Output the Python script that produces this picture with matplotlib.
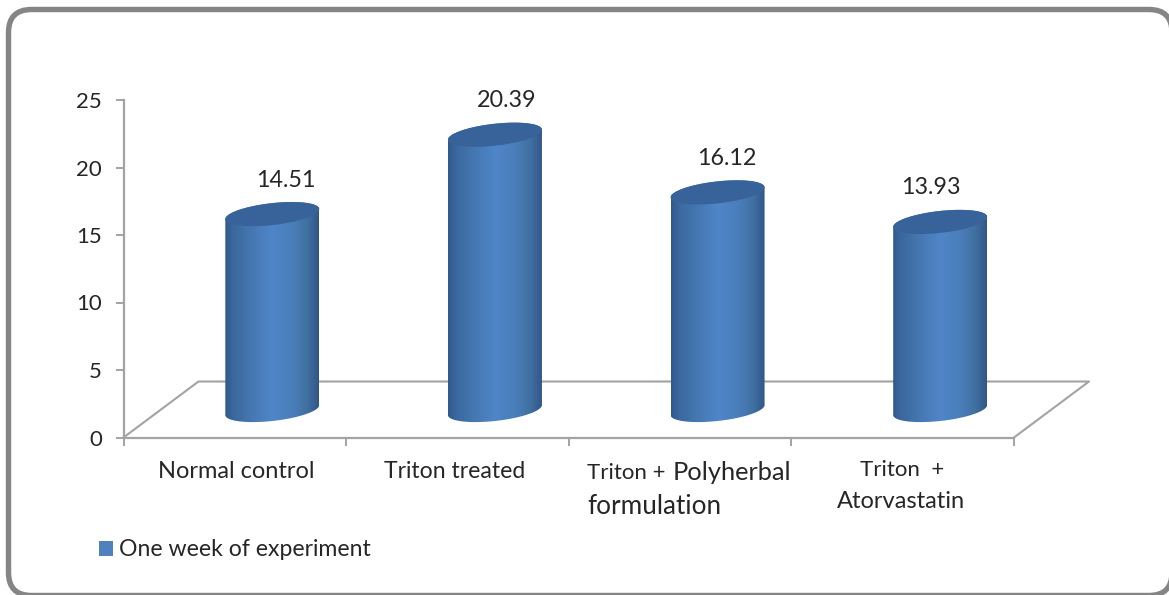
import numpy as np
import matplotlib
matplotlib.use("Agg")
import matplotlib.pyplot as plt
from matplotlib.patches import FancyBboxPatch, Patch, Polygon
from matplotlib.colors import LinearSegmentedColormap

# ---------- data ----------
categories = ["Normal control", "Triton treated", "Triton + Polyherbal formulation", "Triton  + Atorvastatin"]
values = [14.51, 20.39, 16.12, 13.93]
value_labels = ["14.51", "20.39", "16.12", "13.93"]
y_ticks = [0, 5, 10, 15, 20, 25]
series_name = "One week of experiment"

# ---------- layout (pixels of the 1169x595 canvas) ----------
W, H = 1169, 595
AX_L, AX_R, AX_T, AX_B = 123.5, 1014, 100, 437.5
FLOOR_DX, FLOOR_DY = 75, 56     # full depth of the 3D floor
BAR_DX, BAR_DY = 37.5, 27.5     # bars stand mid-depth
BAR_RX, BAR_RY, BAR_TILT = 47, 11, 5
LABEL_DX = [14, 12, 9, -9]
LABEL_DY = 34
TEXT = "#262626"
GREY = "#a3a3a3"
FONT = "Lato"

plt.rcParams["font.family"] = [FONT, "DejaVu Sans"]
fig = plt.figure(figsize=(W / 100, H / 100), dpi=100, facecolor="white")


def fx(x):
    return x / W


def fy(y):
    return 1 - y / H


# rounded outer frame
FR_L, FR_T, FR_R, FR_B, FR_RAD = 8.5, 9.5, 1172, 595.5, 23
frame_ax = fig.add_axes([0, 0, 1, 1], zorder=0)
frame_ax.set_xlim(0, W)
frame_ax.set_ylim(H, 0)
frame_ax.axis("off")
frame_ax.add_patch(FancyBboxPatch((FR_L + FR_RAD, FR_T + FR_RAD),
                                  FR_R - FR_L - 2 * FR_RAD, FR_B - FR_T - 2 * FR_RAD,
                                  boxstyle=f"round,pad={FR_RAD},rounding_size={FR_RAD}",
                                  fc="white", ec="#858585", lw=3.9, clip_on=True))

ax = fig.add_axes([fx(AX_L), fy(AX_B), fx(AX_R - AX_L), (AX_B - AX_T) / H], zorder=1)
ax.patch.set_alpha(0)
ax.set_xlim(0, len(categories))
ax.set_ylim(0, y_ticks[-1])

ux = len(categories) / (AX_R - AX_L)        # data units per pixel
uy = y_ticks[-1] / (AX_B - AX_T)

for side in ("top", "right"):
    ax.spines[side].set_visible(False)
for side in ("left", "bottom"):
    ax.spines[side].set_color(GREY)
    ax.spines[side].set_linewidth(1.6)
ax.set_xticks(range(len(categories) + 1))
ax.set_xticklabels([])
ax.set_yticks(y_ticks)
ax.set_yticklabels([str(t) for t in y_ticks], fontsize=16, color=TEXT)
ax.tick_params(axis="both", color=GREY, width=1.4, length=5.5)
ax.tick_params(axis="y", pad=10)

# 3D floor
fdx, fdy = FLOOR_DX * ux, FLOOR_DY * uy
n = len(categories)
ax.plot([0, fdx, n + fdx, n], [0, fdy, fdy, 0], color=GREY, lw=1.5, clip_on=False, zorder=1)

# cylinders
cmap = LinearSegmentedColormap.from_list("cyl", [
    (0.00, "#30598c"), (0.08, "#3a679e"), (0.25, "#4475ae"), (0.50, "#4f86c8"),
    (0.72, "#4a7ebb"), (0.88, "#40709f"), (0.96, "#365f91"), (1.00, "#315683")])
grad = np.linspace(0, 1, 256).reshape(1, -1)


def arc(xc, yc, t0, t1):
    t = np.linspace(t0, t1, 80)
    return np.column_stack([xc + BAR_RX * ux * np.cos(t),
                            yc + (BAR_RY * np.sin(t) + BAR_TILT * np.cos(t)) * uy])


for i, v in enumerate(values):
    xc = i + 0.5 + BAR_DX * ux
    y0 = BAR_DY * uy
    y1 = y0 + v
    body = np.vstack([arc(xc, y1, np.pi, 0), arc(xc, y0, 2 * np.pi, np.pi)])
    clip = Polygon(body, closed=True, transform=ax.transData, fc="none", ec="none")
    ax.add_patch(clip)
    im = ax.imshow(grad, cmap=cmap, aspect="auto", interpolation="bilinear", zorder=3,
                   extent=(xc - BAR_RX * ux, xc + BAR_RX * ux, y0 - 2, y1 + 2))
    im.set_clip_path(clip)
    ax.add_patch(Polygon(arc(xc, y1, 0, 2 * np.pi), closed=True, fc="#37639a", ec="none", zorder=4))
    ax.text(xc + LABEL_DX[i] * ux, y1 + LABEL_DY * uy, value_labels[i], ha="center", va="center",
            fontsize=16.8, color=TEXT, zorder=5)
ax.set_xlim(0, n)
ax.set_ylim(0, y_ticks[-1])

# category labels
lab = dict(color=TEXT, va="center", zorder=5)
fig.text(fx(236), fy(472), categories[0], ha="center", fontsize=17, **lab)
fig.text(fx(455), fy(472), categories[1], ha="center", fontsize=16.6, **lab)
a, b = categories[2].split(" Polyherbal ")
fig.text(fx(587), fy(473), a, ha="left", fontsize=16, **lab)
fig.text(fx(673), fy(472), "Polyherbal", ha="left", fontsize=18.3, **lab)
fig.text(fx(587), fy(506), b, ha="left", fontsize=18.8, **lab)
c, d = categories[3].split(" Atorvastatin")[0], "Atorvastatin"
fig.text(fx(902), fy(470), c, ha="center", fontsize=16, **lab)
fig.text(fx(901), fy(502), d, ha="center", fontsize=17, **lab)

# legend
fig.legend(handles=[Patch(fc="#4f81bd", ec="none", label=series_name)],
           loc="center left", bbox_to_anchor=(fx(99), fy(550)), frameon=False,
           borderpad=0, borderaxespad=0, handlelength=0.62, handleheight=0.62,
           handletextpad=0.25, fontsize=16.6, labelcolor=TEXT)

fig.savefig("out.png", dpi=100, facecolor="white")
